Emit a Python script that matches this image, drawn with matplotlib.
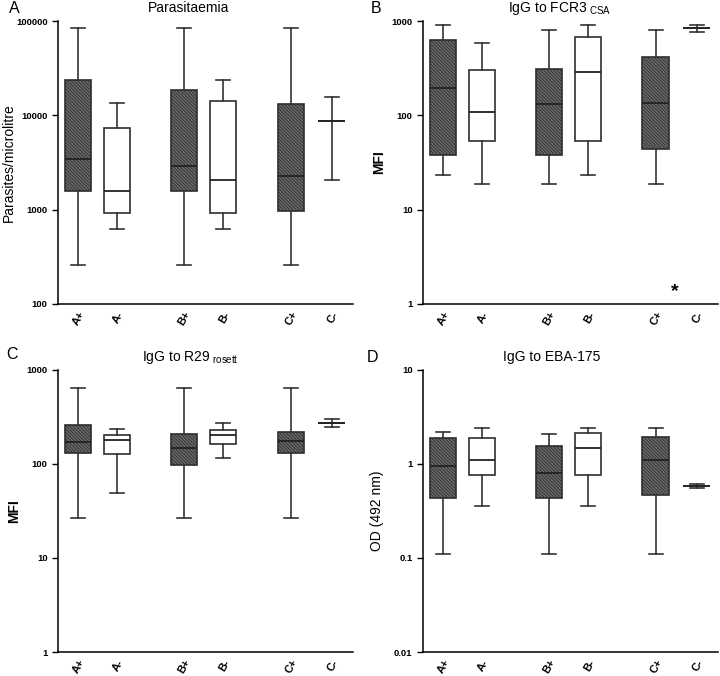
import matplotlib
matplotlib.use('Agg')
import matplotlib.pyplot as plt
from matplotlib.ticker import FixedLocator, FuncFormatter, NullLocator

plt.rcParams['font.family'] = ['Liberation Sans', 'DejaVu Sans']
plt.rcParams['hatch.linewidth'] = 0.6
plt.rcParams['mathtext.default'] = 'regular'

groups = ["A+", "A-", "B+", "B-", "C+", "C-"]
hatched = [True, False, True, False, True, False]

# whislo, q1, median, q3, whishi per group
para_stats = [
    [259, 1578, 3475, 23700, 83600],
    [619, 914, 1578, 7400, 13400],
    [259, 1590, 2900, 18700, 83600],
    [619, 914, 2060, 14070, 23700],
    [259, 968, 2255, 13300, 83600],
    [2060, 8780, 8780, 8780, 15500],
]
fcr3_stats = [
    [23.3, 38, 196, 624, 907],
    [18.7, 53.9, 109, 303, 580],
    [18.7, 38, 131, 308, 796],
    [23.3, 53.9, 286, 671, 907],
    [18.7, 44, 136, 419, 796],
    [771, 843, 843, 843, 907],
]
r29_stats = [
    [26.5, 132, 171, 258, 638],
    [49, 128, 180, 205, 233],
    [26.5, 96.6, 146.5, 210, 638],
    [115, 163, 201, 230, 275],
    [26.5, 131, 174, 219, 638],
    [245, 275, 275, 275, 303],
]
eba_stats = [
    [0.11, 0.43, 0.946, 1.88, 2.21],
    [0.361, 0.76, 1.106, 1.89, 2.42],
    [0.11, 0.43, 0.80, 1.556, 2.07],
    [0.361, 0.76, 1.47, 2.12, 2.42],
    [0.11, 0.473, 1.10, 1.92, 2.42],
    [0.562, 0.585, 0.585, 0.585, 0.615],
]

positions = [1, 2, 3.72, 4.72, 6.45, 7.5]

panels = [
    ("A", "Parasitaemia", "Parasites/microlitre", False, para_stats, (100, 100000), 0.444),
    ("B", "IgG to FCR3$_{\\ CSA}$", "MFI", True, fcr3_stats, (1, 1000), 0.464),
    ("C", "IgG to R29$_{\\ rosett}$", "MFI", True, r29_stats, (1, 1000), 0.45),
    ("D", "IgG to EBA-175", "OD (492 nm)", False, eba_stats, (0.01, 10), 0.437),
]
rects = [
    [0.0806, 0.5503, 0.4097, 0.4186],
    [0.5875, 0.5503, 0.4097, 0.4186],
    [0.0806, 0.0355, 0.4097, 0.4172],
    [0.5875, 0.0355, 0.4097, 0.4172],
]
letter_pos = [(0.012, 0.999), (0.515, 0.999), (0.008, 0.486), (0.509, 0.482)]
ylab_x = [0.012, 0.527, 0.019, 0.524]

fig = plt.figure(figsize=(7.2, 6.76), dpi=100)

for i, (letter, title, ylab, ylab_bold, stats, ylim, tx) in enumerate(panels):
    ax = fig.add_axes(rects[i])
    bstats = []
    for g, s in zip(groups, stats):
        bstats.append(dict(label=g, whislo=s[0], q1=s[1], med=s[2], q3=s[3], whishi=s[4], fliers=[]))
    bp = ax.bxp(bstats, positions=positions, widths=0.67, patch_artist=True,
                showfliers=False,
                boxprops=dict(linewidth=1.2, edgecolor='#2e2e2e'),
                medianprops=dict(color='#222222', linewidth=1.3),
                whiskerprops=dict(color='#333333', linewidth=1.2),
                capprops=dict(color='#333333', linewidth=1.2),
                capwidths=0.36)
    for patch, h in zip(bp['boxes'], hatched):
        if h:
            patch.set_facecolor('#6a6a6a')
            patch.set_hatch('\\' * 10)
        else:
            patch.set_facecolor('white')
    ax.set_yscale('log')
    ax.set_ylim(*ylim)
    ax.set_xlim(0.49, 8.05)
    ax.yaxis.set_major_locator(FixedLocator([10.0**k for k in range(-3, 7)]))
    ax.yaxis.set_minor_locator(NullLocator())
    ax.yaxis.set_major_formatter(FuncFormatter(lambda v, p: '%g' % v))
    ax.spines['top'].set_visible(False)
    ax.spines['right'].set_visible(False)
    ax.spines['left'].set_linewidth(1.1)
    ax.spines['bottom'].set_linewidth(1.1)
    ax.tick_params(axis='y', length=4, width=1.0, labelsize=6.8)
    ax.tick_params(axis='x', length=0, labelsize=8, pad=4)
    for lbl in ax.get_yticklabels():
        lbl.set_fontweight('bold')
    ax.set_xticks(positions)
    ax.set_xticklabels(groups, rotation=60, ha='right', rotation_mode='anchor', fontweight='bold')
    ax.text(tx, 1 + 13 / 283, title, transform=ax.transAxes, ha='center', va='center', fontsize=10)
    fig.text(letter_pos[i][0], letter_pos[i][1], letter, ha='left', va='top', fontsize=11.5)
    yc = rects[i][1] + rects[i][3] / 2
    fig.text(ylab_x[i], yc, ylab, rotation=90, ha='center', va='center', fontsize=10,
             fontweight='bold' if ylab_bold else 'normal')
    if letter == "B":
        ax.text(6.95, 1.35, "*", ha='center', va='center', fontsize=14, fontweight='bold')

fig.savefig('out.png', dpi=100)
